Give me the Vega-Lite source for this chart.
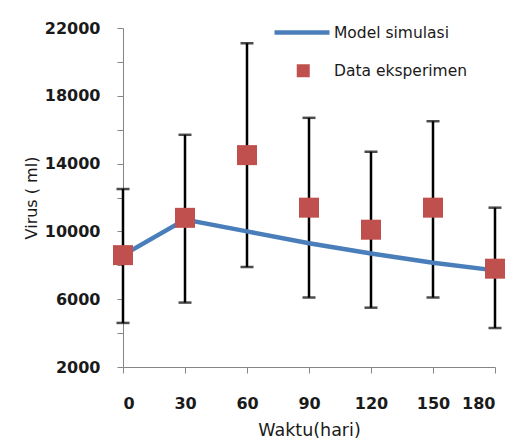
{
  "$schema": "https://vega.github.io/schema/vega-lite/v6.json",
  "width": 372,
  "height": 339,
  "autosize": "none",
  "padding": {"left": 123, "top": 28, "right": 26, "bottom": 80},
  "background": "white",
  "config": {
    "view": {"stroke": null},
    "font": "DejaVu Sans",
    "axis": {
      "domainColor": "#868686",
      "tickColor": "#868686",
      "grid": false,
      "labelFont": "DejaVu Sans",
      "labelFontWeight": "bold",
      "labelFontSize": 16,
      "labelColor": "#1a1a1a",
      "titleFont": "DejaVu Sans",
      "titleFontWeight": "normal",
      "titleColor": "#1a1a1a"
    },
    "legend": {
      "labelFont": "DejaVu Sans",
      "labelFontSize": 15.5,
      "labelColor": "#1a1a1a",
      "padding": 0
    }
  },
  "datasets": {
    "model": [
      {"waktu": 0, "virus": 8600},
      {"waktu": 30, "virus": 10700},
      {"waktu": 60, "virus": 10000},
      {"waktu": 90, "virus": 9300},
      {"waktu": 120, "virus": 8700},
      {"waktu": 150, "virus": 8150},
      {"waktu": 180, "virus": 7700}
    ],
    "eksperimen": [
      {"waktu": 0, "virus": 8600, "low": 4600, "high": 12500},
      {"waktu": 30, "virus": 10800, "low": 5800, "high": 15700},
      {"waktu": 60, "virus": 14500, "low": 7900, "high": 21100},
      {"waktu": 90, "virus": 11400, "low": 6100, "high": 16700},
      {"waktu": 120, "virus": 10100, "low": 5500, "high": 14700},
      {"waktu": 150, "virus": 11400, "low": 6100, "high": 16500},
      {"waktu": 180, "virus": 7800, "low": 4300, "high": 11400}
    ]
  },
  "encoding": {
    "x": {
      "field": "waktu",
      "type": "quantitative",
      "scale": {"domain": [0, 180], "nice": false, "zero": false},
      "axis": {
        "values": [0, 30, 60, 90, 120, 150, 180],
        "tickSize": 6,
        "labelPadding": 22,
        "title": "Waktu(hari)",
        "titleFontSize": 17.5,
        "titlePadding": 10
      }
    },
    "y": {
      "field": "virus",
      "type": "quantitative",
      "scale": {"domain": [2000, 22000], "nice": false, "zero": false},
      "axis": {
        "values": [2000, 4000, 6000, 8000, 10000, 12000, 14000, 16000, 18000, 20000, 22000],
        "labelExpr": "(datum.value - 2000) % 4000 == 0 ? format(datum.value, 'd') : ''",
        "tickSize": 6,
        "labelPadding": 17,
        "title": "Virus ( ml)",
        "titleFontSize": 16,
        "titlePadding": 5
      }
    }
  },
  "layer": [
    {
      "data": {"name": "eksperimen"},
      "mark": {"type": "rule", "color": "black", "strokeWidth": 2.5},
      "encoding": {
        "y": {"field": "low", "type": "quantitative"},
        "y2": {"field": "high"}
      }
    },
    {
      "data": {"name": "eksperimen"},
      "mark": {"type": "tick", "orient": "horizontal", "color": "black", "size": 13, "thickness": 2.5},
      "encoding": {
        "y": {"field": "low", "type": "quantitative"}
      }
    },
    {
      "data": {"name": "eksperimen"},
      "mark": {"type": "tick", "orient": "horizontal", "color": "black", "size": 13, "thickness": 2.5},
      "encoding": {
        "y": {"field": "high", "type": "quantitative"}
      }
    },
    {
      "data": {"name": "model"},
      "mark": {"type": "line", "strokeWidth": 4.5},
      "encoding": {
        "color": {
          "datum": "Model simulasi",
          "type": "nominal",
          "scale": {"range": ["#4A7EBB"]},
          "legend": {
            "title": null,
            "orient": "none",
            "legendX": 149,
            "legendY": -25.5,
            "symbolType": "stroke",
            "symbolSize": 3025,
            "symbolStrokeWidth": 4.5,
            "labelOffset": 2
          }
        }
      }
    },
    {
      "data": {"name": "eksperimen"},
      "mark": {"type": "point", "shape": "square", "filled": true, "size": 400, "opacity": 1},
      "encoding": {
        "color": {
          "datum": "Data eksperimen",
          "type": "nominal",
          "scale": {"range": ["#C0504D"]},
          "legend": {
            "title": null,
            "orient": "none",
            "legendX": 172.5,
            "legendY": 35,
            "symbolType": "square",
            "symbolSize": 169,
            "symbolOpacity": 1,
            "labelOffset": 23
          }
        }
      }
    }
  ],
  "resolve": {"scale": {"color": "independent"}}
}
